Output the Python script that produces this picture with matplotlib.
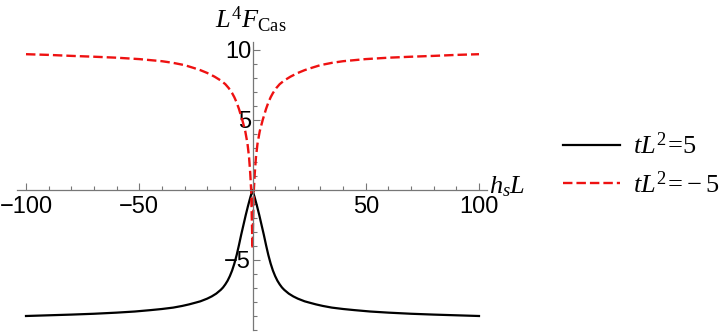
import matplotlib
matplotlib.use("Agg")
import matplotlib.pyplot as plt
from matplotlib.ticker import MultipleLocator, FixedLocator

plt.rcParams['mathtext.fontset'] = 'custom'
plt.rcParams['mathtext.rm'] = 'Liberation Serif'
plt.rcParams['mathtext.it'] = 'Liberation Serif:italic'

# h_s L values and L^4 F_Cas for tL^2 = 5 (black)
hs_pos = [-100, -90, -80, -70, -60, -52, -45, -40, -35, -31, -28, -25, -23, -20, -18, -16, -14, -13, -12, -11, -10,
          -9, -8, -7, -6, -5, -4, -3, -2, -1,
          0, 1, 2, 3, 4, 5, 6, 7, 8, 9,
          10, 11, 12, 13, 14, 16, 18, 20, 23, 25, 28, 31, 35, 40, 45, 52, 60, 70, 80, 90, 100]
f_pos = [-9.0, -8.95, -8.9, -8.84, -8.76, -8.68, -8.58, -8.5, -8.4, -8.28, -8.17, -8.04, -7.95, -7.76, -7.6, -7.4,
         -7.13, -6.96, -6.74, -6.48, -6.15,
         -5.75, -5.25, -4.65, -3.95, -3.2, -2.5, -1.8, -1.15, -0.55,
         0.0, -0.55, -1.15, -1.8, -2.5, -3.2, -3.95, -4.65, -5.25, -5.75,
         -6.15, -6.48, -6.74, -6.96, -7.13, -7.4, -7.6, -7.76, -7.95, -8.04, -8.17, -8.28, -8.4, -8.5, -8.58, -8.68,
         -8.76, -8.84, -8.9, -8.95, -9.0]

# tL^2 = -5 (red dashed)
hs_neg = [-100, -90, -80, -70, -60, -50, -40, -35, -30, -26, -23, -20, -16.8, -14, -12, -10.5, -9, -8, -7, -6,
          -4.5, -3.2, -2.2, -1.5, -1.0, -0.6, -0.3,
          0, 0.3, 0.6, 1.0, 1.5, 2.2, 3.2, 4.5,
          6, 7, 8, 9, 10.5, 12, 14, 16.8, 20, 23, 26, 30, 35, 40, 50, 60, 70, 80, 90, 100]
f_neg = [9.7, 9.65, 9.58, 9.52, 9.45, 9.35, 9.2, 9.08, 8.92, 8.72, 8.56, 8.36, 8.1, 7.82, 7.56, 7.28, 6.92, 6.62,
         6.25, 5.8,
         5.0, 4.2, 3.3, 2.3, 1.2, 0.0, -2.0,
         -4.2, -2.0, 0.0, 1.2, 2.3, 3.3, 4.2, 5.0,
         5.8, 6.25, 6.62, 6.92, 7.28, 7.56, 7.82, 8.1, 8.36, 8.56, 8.72, 8.92, 9.08, 9.2, 9.35, 9.45, 9.52, 9.58,
         9.65, 9.7]

labels = [r'$tL^2\!=\!5$', r'$tL^2\!=\!-5$']
xticks = [-100, -50, 50, 100]
yticks = [-5, 5, 10]

fig = plt.figure(figsize=(7.23, 3.32), dpi=100)
ax = fig.add_axes([17/723, 1-330/332, (487-17)/723, (330-41.7)/332])
ax.set_xlim(-100 - 9/2.265, 100 + 8/2.265)
ax.set_ylim((190-330)/14, (190-41.7)/14)

l1, = ax.plot(hs_pos, f_pos, color='black', lw=1.6, solid_joinstyle='round')
l2, = ax.plot(hs_neg, f_neg, color='#ee1111', lw=1.7, dashes=(4.0, 1.7))

axc = '#777777'
for s in ['top', 'right']:
    ax.spines[s].set_visible(False)
ax.spines['left'].set_position(('data', 0))
ax.spines['bottom'].set_position(('data', 0))
for s in ['left', 'bottom']:
    ax.spines[s].set_color(axc)
    ax.spines[s].set_linewidth(0.9)

ax.xaxis.set_major_locator(FixedLocator(xticks))
ax.xaxis.set_minor_locator(MultipleLocator(10))
ax.yaxis.set_major_locator(FixedLocator(yticks))
ax.yaxis.set_minor_locator(MultipleLocator(1))
ax.tick_params(which='both', direction='in', color=axc, width=0.8)
ax.tick_params(which='major', length=5, labelsize=17, labelcolor='black')
ax.tick_params(which='minor', length=3)
ax.tick_params(axis='x', which='major', pad=4)
ax.tick_params(axis='y', which='major', pad=1)
for lab in ax.get_xticklabels() + ax.get_yticklabels():
    lab.set_fontfamily('Liberation Sans')

fig.text(251/723, 1-20/332, r'$L^4F_{\mathrm{Cas}}$', fontsize=19, ha='center', va='center')
fig.text(489/723, 1-186/332, r'$h_sL$', fontsize=19, ha='left', va='center')

leg = fig.legend([l1, l2], labels, loc='center left', bbox_to_anchor=(563/723, 1-166/332),
                 frameon=False, fontsize=19, handlelength=2.15, labelspacing=0.45, handletextpad=0.5,
                 borderpad=0, borderaxespad=0)

fig.savefig('out.png', dpi=100)
